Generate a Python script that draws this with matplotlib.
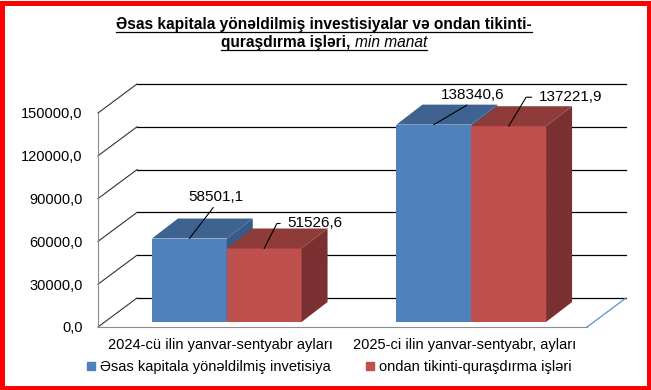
import matplotlib.pyplot as plt
from matplotlib.patches import Polygon, Rectangle
from matplotlib.lines import Line2D

categories = ["2024-cü ilin yanvar-sentyabr ayları", "2025-ci ilin yanvar-sentyabr, ayları"]
series_names = ["Əsas kapitala yönəldilmiş invetisiya", "ondan tikinti-quraşdırma işləri"]
investment = [58501.1, 138340.6]
construction = [51526.6, 137221.9]
y_ticks = [0, 30000, 60000, 90000, 120000, 150000]

plt.rcParams["font.family"] = ["Liberation Sans", "DejaVu Sans"]

W, H = 651, 390
fig = plt.figure(figsize=(W / 100, H / 100), dpi=100)

# front plane of the 3d box, in pixels
ax_left, ax_right, ax_top, ax_bottom = 98, 587, 113, 327
ax = fig.add_axes([ax_left / W, 1 - ax_bottom / H,
                   (ax_right - ax_left) / W, (ax_bottom - ax_top) / H])
ymax = y_ticks[-1]
ax.set_xlim(0, 1)
ax.set_ylim(0, ymax)
for s in ax.spines.values():
    s.set_visible(False)
ax.set_xticks([])
ax.set_yticks(y_ticks)
ax.set_yticklabels([f"{v:.1f}".replace(".", ",") for v in y_ticks], fontsize=10.5)
ax.tick_params(axis="y", length=0, pad=11)
ax.patch.set_visible(False)

# pixel -> data helpers
sx = 1 / (ax_right - ax_left)
sy = ymax / (ax_bottom - ax_top)


def off(px, py):
    return px * sx, py * sy


# depth of the box and of the bars
dx, dy = off(39, 29)
bx, by = off(6.5, 5)
bdx, bdy = off(26, 20)

# back wall gridlines and left wall diagonals
for v in y_ticks:
    ax.add_line(Line2D([dx, 1 + dx], [v + dy, v + dy], color="black", lw=0.9,
                       clip_on=False, zorder=1))
    ax.add_line(Line2D([0, dx], [v, v + dy], color="#333333", lw=0.8,
                       clip_on=False, zorder=1))
# front axis line and floor
ax.add_line(Line2D([0, 0], [0, ymax], color="#8c8c8c", lw=0.8, clip_on=False, zorder=1))
ax.add_line(Line2D([0, 1], [0, 0], color="#8c8c8c", lw=0.8, clip_on=False, zorder=1))
ax.add_line(Line2D([1, 1 + dx], [0, dy], color="#5b8fd0", lw=0.9, clip_on=False, zorder=1))

centers = [0.25, 0.75]
w = 0.153
faces = [("#4F81BD", "#3E6391", "#375A86"), ("#C0504D", "#8F3B39", "#7A3030")]

for gi, c in enumerate(centers):
    for si, vals in enumerate([investment, construction]):
        v = vals[gi]
        front, top, side = faces[si]
        xl = c - w + si * w + bx
        ax.bar(xl, v, width=w, bottom=by, align="edge", color=front,
               edgecolor="none", zorder=3, clip_on=False)
        ax.add_patch(Polygon([(xl, by + v), (xl + w, by + v),
                              (xl + w + bdx, by + v + bdy), (xl + bdx, by + v + bdy)],
                             closed=True, fc=top, ec="none", zorder=3, clip_on=False))
        ax.add_patch(Polygon([(xl + w, by), (xl + w + bdx, by + bdy),
                              (xl + w + bdx, by + bdy + v), (xl + w, by + v)],
                             closed=True, fc=side, ec="none", zorder=3, clip_on=False))

# data labels (offsets in pixels -> points)
p = 72 / 100
lab_fmt = lambda v: f"{v:.1f}".replace(".", ",")
for gi, c in enumerate(centers):
    # first series: label above, leader to bottom centre
    ox, oy = [(27, 35), (39, 23)][gi]
    xa = c - w / 2 + bx
    ax.annotate(lab_fmt(investment[gi]), xy=(xa, by + investment[gi]),
                xytext=(ox * p, oy * p), textcoords="offset points",
                ha="center", va="bottom", fontsize=11, zorder=5,
                arrowprops=dict(arrowstyle="-", color="black", lw=0.8,
                                relpos=(0.5, 0), shrinkA=1, shrinkB=0))
    # second series: label to the right, leader with a short horizontal tick
    ox, oy = [(23, 25), (30, 29)][gi]
    ang = [63, 59][gi]
    xa = c + w / 2 + bx
    ax.annotate(lab_fmt(construction[gi]), xy=(xa, by + construction[gi]),
                xytext=(ox * p, oy * p), textcoords="offset points",
                ha="left", va="center", fontsize=11, zorder=5,
                arrowprops=dict(arrowstyle="-", color="black", lw=0.8,
                                relpos=(0, 0.5), shrinkA=3, shrinkB=0,
                                connectionstyle=f"angle,angleA=0,angleB={ang},rad=0"))

# category labels
for c, lab in zip(centers, categories):
    xc = ax_left + c * (ax_right - ax_left)
    fig.text(xc / W, 1 - 345.5 / H, lab, ha="center", va="center", fontsize=10.5)

# legend
handles = [Line2D([], [], marker="s", ls="none", color=col[0], markersize=5.5)
           for col in faces]
fig.legend(handles, series_names, loc="center", bbox_to_anchor=(329 / W, 1 - 367 / H),
           ncol=2, frameon=False, fontsize=10.5, handlelength=0.6, handletextpad=0.3,
           columnspacing=2.4, borderpad=0)

# title, bold and underlined, with italic unit
t1 = fig.text(324 / W, 1 - 29 / H, "Əsas kapitala yönəldilmiş investisiyalar və ondan tikinti-",
              ha="center", va="baseline", fontsize=11.2, fontweight="bold")
t2a = fig.text(0, 1 - 47 / H, "quraşdırma işləri, ", ha="left", va="baseline",
               fontsize=11.2, fontweight="bold")
t2b = fig.text(0, 1 - 47 / H, "min manat", ha="left", va="baseline",
               fontsize=11.2, fontstyle="italic")
r = fig.canvas.get_renderer()
wa = t2a.get_window_extent(r).width
wb = t2b.get_window_extent(r).width
x0 = 324 - (wa + wb) / 2
t2a.set_x(x0 / W)
t2b.set_x((x0 + wa) / W)
b1 = t1.get_window_extent(r)
for x_a, x_b, yb in [(b1.x0, b1.x1, 32), (x0, x0 + wa + wb, 50)]:
    fig.add_artist(Line2D([x_a / W, x_b / W], [1 - yb / H, 1 - yb / H],
                          transform=fig.transFigure, color="black", lw=0.9))

# red frame
fig.add_artist(Rectangle((2 / W, 2.5 / H), (W - 4) / W, (H - 5) / H,
                         transform=fig.transFigure, fill=False, ec="#FF0000", lw=3.6))

fig.savefig("out.png", dpi=100)
